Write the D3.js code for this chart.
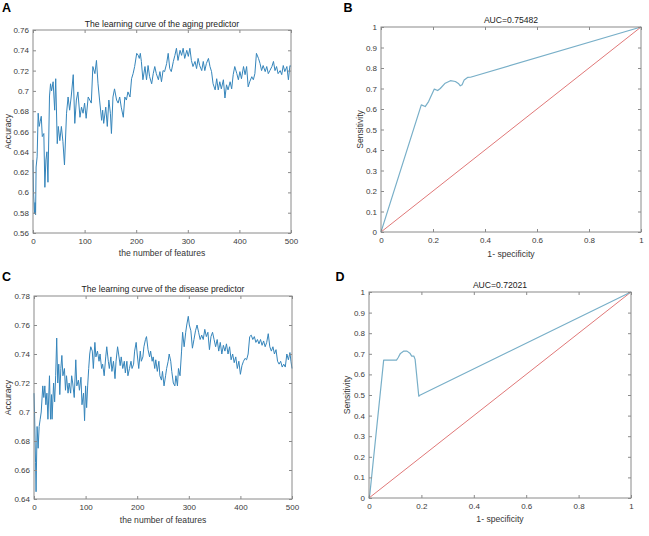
<!DOCTYPE html>
<html>
<head>
<meta charset="utf-8">
<script src="https://cdn.jsdelivr.net/npm/d3@7"></script>
<style>
  html, body { margin: 0; padding: 0; background: #fff; }
  svg { display: block; font-family: "Liberation Sans", Arial, sans-serif; }
</style>
</head>
<body>
<svg id="fig" width="649" height="536"></svg>
<script>
// ---------- DATA ----------
// Panel A: learning curve of the aging predictor
const aFeatures = [0,1,3,4,5,6,8,10,12,14,16,18,21,23,25,27,29,32,34,36,39,42,44,47,49,52,55,58,61,65,68,71,74,78,81,84,87,91,94,97,100,103,107,110,113,116,120,123,126,129,133,135,137,141,144,147,150,152,155,158,162,165,168,171,175,178,181,184,188,191,194,197,201,204,206,208,210,213,217,220,223,226,230,233,236,239,243,246,249,252,255,259,262,265,268,272,275,278,281,285,288,291,294,298,301,304,307,310,314,317,320,323,327,330,333,336,340,343,346,349,353,356,359,362,365,369,372,375,378,382,385,388,391,395,398,401,404,408,411,414,417,420,424,427,430,433,437,440,443,446,450,453,456,459,463,466,469,472,475,479,482,485,488,492,495,498,500];
const aAccuracy = [0.632,0.600,0.579,0.590,0.578,0.625,0.635,0.678,0.665,0.670,0.675,0.655,0.658,0.605,0.632,0.640,0.610,0.695,0.707,0.700,0.709,0.681,0.712,0.648,0.665,0.651,0.665,0.650,0.627,0.678,0.694,0.681,0.694,0.716,0.668,0.691,0.699,0.674,0.684,0.678,0.688,0.673,0.694,0.691,0.688,0.724,0.717,0.730,0.707,0.691,0.671,0.681,0.668,0.684,0.665,0.691,0.678,0.658,0.694,0.702,0.691,0.688,0.694,0.684,0.674,0.694,0.691,0.699,0.694,0.712,0.717,0.724,0.737,0.735,0.732,0.737,0.729,0.711,0.724,0.711,0.725,0.714,0.707,0.717,0.724,0.717,0.711,0.719,0.709,0.720,0.719,0.727,0.737,0.722,0.719,0.729,0.735,0.742,0.730,0.740,0.735,0.742,0.732,0.740,0.734,0.742,0.730,0.724,0.729,0.722,0.732,0.725,0.720,0.729,0.720,0.727,0.732,0.724,0.719,0.707,0.701,0.712,0.701,0.709,0.702,0.711,0.693,0.706,0.701,0.709,0.702,0.716,0.724,0.717,0.711,0.719,0.712,0.724,0.716,0.724,0.704,0.709,0.714,0.711,0.717,0.737,0.732,0.727,0.720,0.725,0.719,0.724,0.717,0.720,0.724,0.729,0.720,0.724,0.717,0.720,0.716,0.725,0.719,0.724,0.711,0.725,0.724];

// Panel C: learning curve of the disease predictor
const cFeatures = [0,1,3,4,6,8,10,12,14,17,19,21,23,25,27,30,32,34,35,38,40,42,44,46,48,50,52,54,56,59,61,63,66,68,71,73,75,78,81,83,86,88,91,93,96,98,100,102,104,106,108,110,113,115,118,120,123,126,128,131,133,136,139,141,144,146,149,151,154,157,159,162,164,167,169,172,175,177,180,182,185,188,190,193,195,198,200,203,206,208,211,213,216,218,221,224,226,229,231,234,236,239,242,244,247,249,252,255,257,260,262,265,267,270,273,275,278,280,283,286,288,291,294,296,299,301,304,307,310,313,316,319,322,325,328,331,334,337,340,343,346,349,352,355,358,361,364,367,370,373,376,379,382,385,388,391,394,397,400,403,406,409,412,415,418,421,424,427,430,433,436,439,442,445,448,451,454,457,460,463,466,469,472,475,478,481,484,487,490,493,496,498,500];
const cAccuracy = [0.713,0.700,0.665,0.645,0.690,0.675,0.690,0.695,0.700,0.718,0.710,0.718,0.705,0.713,0.695,0.725,0.695,0.712,0.695,0.720,0.707,0.725,0.751,0.720,0.733,0.712,0.730,0.739,0.725,0.730,0.715,0.725,0.713,0.720,0.713,0.725,0.720,0.710,0.736,0.718,0.722,0.715,0.724,0.705,0.713,0.694,0.718,0.703,0.718,0.730,0.740,0.745,0.742,0.730,0.748,0.738,0.742,0.735,0.740,0.730,0.733,0.725,0.738,0.745,0.735,0.730,0.738,0.728,0.735,0.723,0.735,0.745,0.740,0.732,0.738,0.730,0.735,0.727,0.735,0.725,0.730,0.735,0.730,0.733,0.742,0.748,0.740,0.730,0.742,0.735,0.738,0.745,0.750,0.752,0.743,0.738,0.742,0.735,0.738,0.730,0.736,0.728,0.735,0.725,0.722,0.728,0.718,0.725,0.730,0.735,0.740,0.735,0.728,0.720,0.718,0.725,0.718,0.730,0.725,0.742,0.755,0.745,0.755,0.760,0.766,0.760,0.756,0.744,0.750,0.756,0.760,0.755,0.750,0.753,0.750,0.757,0.752,0.755,0.743,0.752,0.755,0.750,0.745,0.750,0.742,0.748,0.740,0.746,0.742,0.747,0.740,0.745,0.736,0.740,0.734,0.738,0.730,0.735,0.726,0.732,0.735,0.737,0.736,0.740,0.752,0.753,0.750,0.752,0.748,0.750,0.747,0.750,0.746,0.749,0.745,0.748,0.754,0.745,0.742,0.745,0.740,0.743,0.735,0.733,0.735,0.731,0.733,0.731,0.740,0.736,0.741,0.735,0.730];

// Panel B: ROC of the aging predictor
const bFpr = [0,0.005,0.155,0.170,0.183,0.205,0.218,0.228,0.247,0.267,0.286,0.299,0.305,0.312,0.320,0.333,0.344,1];
const bTpr = [0,0.020,0.620,0.612,0.636,0.697,0.690,0.700,0.726,0.738,0.734,0.723,0.713,0.718,0.742,0.754,0.755,1];
// Panel D: ROC of the disease predictor
const dFpr = [0,0.003,0.056,0.105,0.111,0.120,0.133,0.145,0.156,0.163,0.171,0.176,0.190,0.194,1];
const dTpr = [0,0.016,0.669,0.669,0.681,0.702,0.713,0.713,0.703,0.689,0.689,0.673,0.494,0.499,1];
// chance diagonal
const diagX = [0,1];
const diagY = [0,1];

// tick labels
const featureTicks = [0,100,200,300,400,500];
const aAccTicks = [0.56,0.58,0.6,0.62,0.64,0.66,0.68,0.7,0.72,0.74,0.76];
const cAccTicks = [0.64,0.66,0.68,0.7,0.72,0.74,0.76,0.78];
const rocXTicks = [0,0.2,0.4,0.6,0.8,1];
const rocYTicks = [0,0.1,0.2,0.3,0.4,0.5,0.6,0.7,0.8,0.9,1];

// titles / labels
const titles = {
  A: "The learning curve of the aging predictor",
  B: "AUC=0.75482",
  C: "The learning curve of the disease predictor",
  D: "AUC=0.72021"
};

// ---------- LAYOUT / STYLE ----------
const axisColor = "#8a8a8a";
const tickTextColor = "#3a3a3a";
const curveBlue = "#3585bb";
const rocBlue = "#78afc8";
const diagRed = "#e07878";

const svg = d3.select("#fig");

function fmt(d) { return String(d); }

function panel(cfg) {
  const x = d3.scaleLinear().domain(cfg.xDomain).range([cfg.x0, cfg.x1]);
  const y = d3.scaleLinear().domain(cfg.yDomain).range([cfg.y1, cfg.y0]);
  const g = svg.append("g");

  g.append("rect").attr("x", cfg.x0).attr("y", cfg.y0)
    .attr("width", cfg.x1 - cfg.x0).attr("height", cfg.y1 - cfg.y0)
    .attr("fill", "#fff").attr("stroke", "none");

  cfg.series.forEach(s => {
    const pts = s.xs.map((v, i) => [v, s.ys[i]]);
    g.append("path").datum(pts)
      .attr("fill", "none").attr("stroke", s.color)
      .attr("stroke-width", s.width).attr("stroke-linejoin", "round")
      .attr("d", d3.line().x(d => x(d[0])).y(d => y(d[1])));
  });

  const styleAxis = (sel, showText) => {
    sel.select(".domain").remove();
    sel.selectAll(".tick line").attr("stroke", axisColor);
    sel.selectAll(".tick text").attr("fill", tickTextColor)
      .style("font-size", "8px").style("font-family", '"Liberation Sans", Arial, sans-serif');
    if (!showText) sel.selectAll(".tick text").remove();
  };

  g.append("g").attr("transform", `translate(0,${cfg.y1})`)
    .call(d3.axisBottom(x).tickValues(cfg.xTicks).tickFormat(fmt).tickSizeInner(-3).tickSizeOuter(0).tickPadding(5))
    .call(s => styleAxis(s, true));
  g.append("g").attr("transform", `translate(0,${cfg.y0})`)
    .call(d3.axisTop(x).tickValues(cfg.xTicks).tickSizeInner(-3).tickSizeOuter(0))
    .call(s => styleAxis(s, false));
  g.append("g").attr("transform", `translate(${cfg.x0},0)`)
    .call(d3.axisLeft(y).tickValues(cfg.yTicks).tickFormat(fmt).tickSizeInner(-3).tickSizeOuter(0).tickPadding(4))
    .call(s => styleAxis(s, true));
  g.append("g").attr("transform", `translate(${cfg.x1},0)`)
    .call(d3.axisRight(y).tickValues(cfg.yTicks).tickSizeInner(-3).tickSizeOuter(0))
    .call(s => styleAxis(s, false));

  g.append("rect").attr("x", cfg.x0).attr("y", cfg.y0)
    .attr("width", cfg.x1 - cfg.x0).attr("height", cfg.y1 - cfg.y0)
    .attr("fill", "none").attr("stroke", axisColor).attr("stroke-width", 1);

  g.append("text").attr("x", (cfg.x0 + cfg.x1) / 2).attr("y", cfg.titleY)
    .attr("text-anchor", "middle").attr("dominant-baseline", "central")
    .attr("fill", "#222").style("font-size", "8.6px").text(cfg.title);
  g.append("text").attr("x", (cfg.x0 + cfg.x1) / 2).attr("y", cfg.xlabelY)
    .attr("text-anchor", "middle").attr("dominant-baseline", "central")
    .attr("fill", "#333").style("font-size", "8.6px").text(cfg.xlabel);
  g.append("text")
    .attr("transform", `translate(${cfg.ylabelX},${(cfg.y0 + cfg.y1) / 2}) rotate(-90)`)
    .attr("text-anchor", "middle").attr("dominant-baseline", "central")
    .attr("fill", "#333").style("font-size", "8.6px").text(cfg.ylabel);
  g.append("text").attr("x", cfg.letterX).attr("y", cfg.letterY)
    .attr("text-anchor", "middle").attr("dominant-baseline", "central")
    .attr("fill", "#000").style("font-size", "12.5px").style("font-weight", "bold")
    .text(cfg.letter);
}

panel({
  letter: "A", letterX: 6.5, letterY: 8,
  x0: 33, x1: 291, y0: 30, y1: 233,
  xDomain: [0, 500], yDomain: [0.56, 0.76],
  xTicks: featureTicks, yTicks: aAccTicks,
  title: titles.A, titleY: 24,
  xlabel: "the number of features", xlabelY: 253,
  ylabel: "Accuracy", ylabelX: 8,
  series: [{ xs: aFeatures, ys: aAccuracy, color: curveBlue, width: 1 }]
});

panel({
  letter: "B", letterX: 348, letterY: 8,
  x0: 381, x1: 641, y0: 27, y1: 232,
  xDomain: [0, 1], yDomain: [0, 1],
  xTicks: rocXTicks, yTicks: rocYTicks,
  title: titles.B, titleY: 20,
  xlabel: "1- specificity", xlabelY: 254,
  ylabel: "Sensitivity", ylabelX: 360,
  series: [
    { xs: diagX, ys: diagY, color: diagRed, width: 1 },
    { xs: bFpr, ys: bTpr, color: rocBlue, width: 1.2 }
  ]
});

panel({
  letter: "C", letterX: 6.5, letterY: 277,
  x0: 34, x1: 292, y0: 296, y1: 499,
  xDomain: [0, 500], yDomain: [0.64, 0.78],
  xTicks: featureTicks, yTicks: cAccTicks,
  title: titles.C, titleY: 289,
  xlabel: "the number of features", xlabelY: 520,
  ylabel: "Accuracy", ylabelX: 8,
  series: [{ xs: cFeatures, ys: cAccuracy, color: curveBlue, width: 1 }]
});

panel({
  letter: "D", letterX: 340, letterY: 277,
  x0: 369, x1: 631, y0: 292, y1: 498,
  xDomain: [0, 1], yDomain: [0, 1],
  xTicks: rocXTicks, yTicks: rocYTicks,
  title: titles.D, titleY: 285,
  xlabel: "1- specificity", xlabelY: 519,
  ylabel: "Sensitivity", ylabelX: 347,
  series: [
    { xs: diagX, ys: diagY, color: diagRed, width: 1 },
    { xs: dFpr, ys: dTpr, color: rocBlue, width: 1.2 }
  ]
});
</script>
</body>
</html>
